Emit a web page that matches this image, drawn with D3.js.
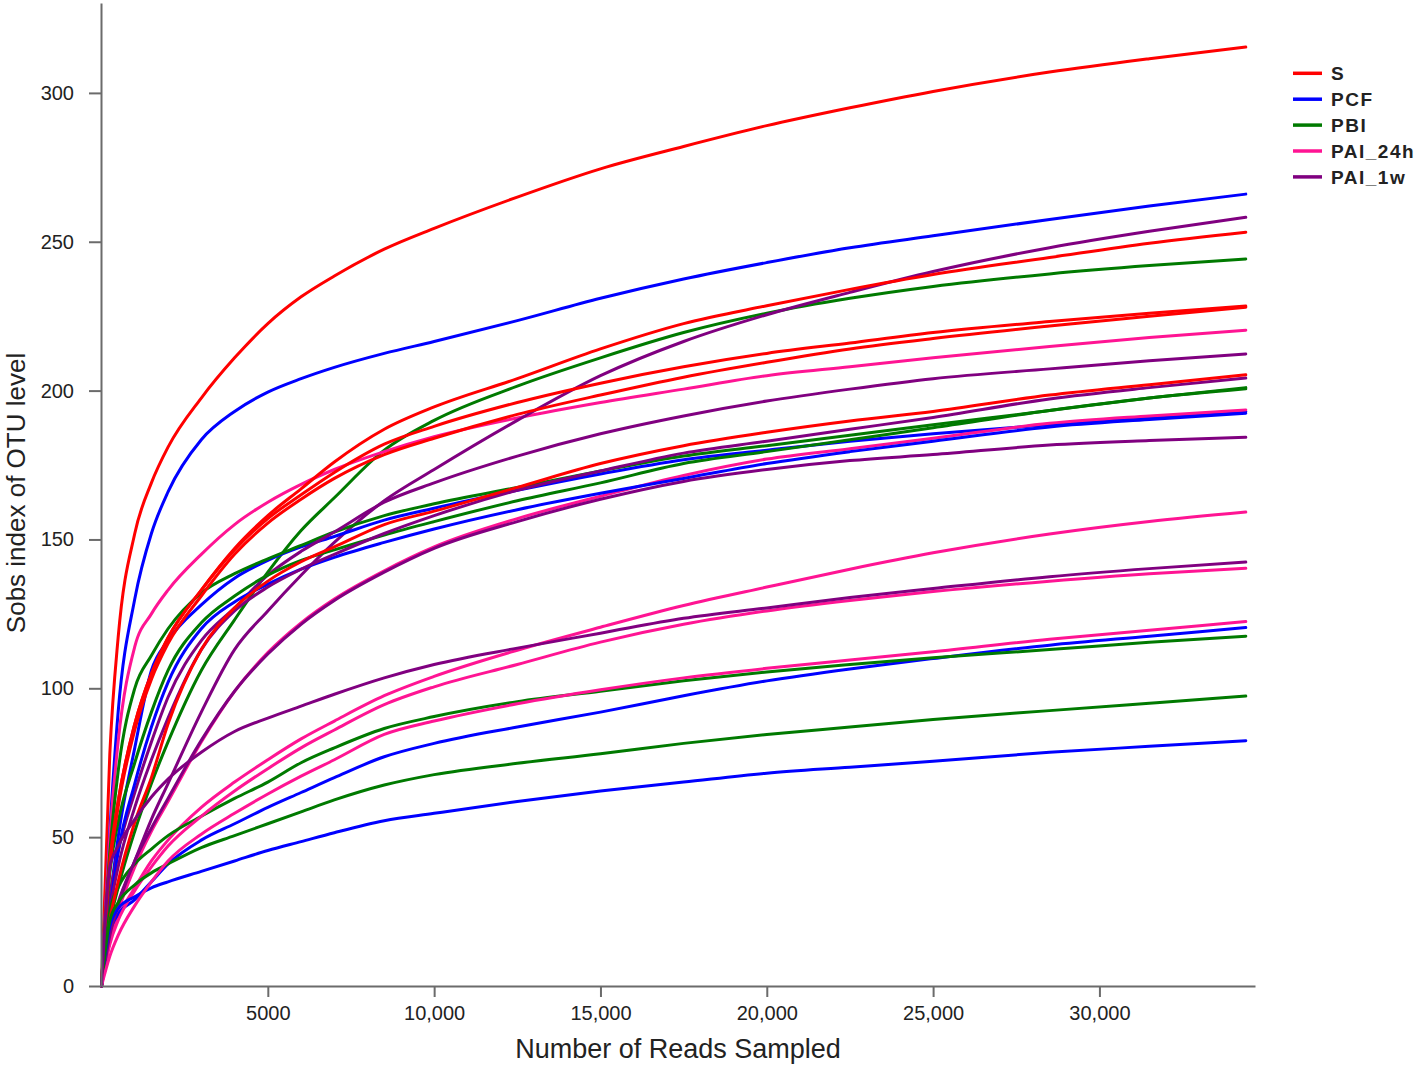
<!DOCTYPE html>
<html>
<head>
<meta charset="utf-8">
<script src="https://cdn.jsdelivr.net/npm/d3@7"></script>
<style>
  html, body { margin: 0; padding: 0; background: #fff; }
  svg { display: block; }
  text { font-family: "Liberation Sans", Arial, Helvetica, sans-serif; fill: #222; }
</style>
</head>
<body>
<svg id="chart" width="1418" height="1066"></svg>
<script>
// ---- data ----
const readsSampled = [0, 250, 500, 1000, 1500, 2000, 3000, 4000, 5000, 6000, 7000, 8500, 10000, 12500, 15000, 17500, 20000, 22500, 25000, 28500, 31500, 34400];

const groupNames = ["S", "PCF", "PBI", "PAI_24h", "PAI_1w"];
const groupColors = ["#ff0000", "#0000ff", "#007a00", "#ff1493", "#800080"];

const sCurves = [
  [0, 78, 117, 152, 169, 181, 197.5, 211, 222.5, 231.5, 238.5, 247.5, 254.5, 265, 274.5, 282, 289, 295, 300.5, 307, 311.5, 315.4],
  [0, 42, 62, 88, 105, 117, 133, 147, 158, 167, 176, 187, 194.5, 204, 214, 222.5, 228.5, 234, 239, 244.7, 249.5, 253.2],
  [0, 42, 62, 88, 105, 117, 133, 146.5, 157, 165, 172.5, 182, 188, 196, 202.5, 208, 212.5, 216, 219.5, 223.2, 226, 228.4],
  [0, 40, 60, 86, 103, 115, 131, 145, 155.5, 163.5, 170.5, 178.5, 184, 192, 198.5, 204.5, 209.5, 214, 217.5, 221.7, 225, 228],
  [0, 22, 35, 55, 70, 88, 113, 127, 136, 142.5, 147.5, 155, 159.5, 167.5, 175.5, 181.5, 186, 189.8, 193, 198.5, 202, 205.3]
];
const pcfCurves = [
  [0, 52, 92, 130, 152, 166, 183.5, 193, 199.5, 204, 207.8, 212.5, 216.5, 223.5, 231, 237.5, 243, 248, 252, 257.5, 262, 266],
  [0, 28, 50, 80, 106, 116, 128, 137, 143, 147.5, 151, 156.5, 160.5, 166.5, 172, 176.8, 180, 183, 185.5, 188.5, 191, 193],
  [0, 25, 45, 68, 87, 102, 120, 129, 135, 140, 144, 149, 153.5, 160, 165.5, 170.5, 175.5, 179.5, 183, 187.8, 190.3, 192.4],
  [0, 18, 24, 29, 35, 41, 49, 54.5, 60, 65, 70, 77, 81.5, 87, 92, 97.5, 102.5, 106.5, 110, 114.5, 117.5, 120.4],
  [0, 20, 26, 30, 33, 35, 38.5, 42, 45.5, 48.5, 51.5, 55.5, 58, 62, 65.5, 68.5, 71.5, 73.5, 75.5, 78.5, 80.5, 82.4]
];
const pbiCurves = [
  [0, 21, 33, 52, 68, 82, 106, 123, 139, 153, 164, 180, 190, 201.5, 211, 219.5, 226, 231, 235, 239.2, 242, 244.2],
  [0, 45, 72, 100, 111, 120, 132, 138.5, 143.5, 148, 152.5, 158, 162, 167.5, 173, 178, 181.5, 185, 188.5, 193.3, 197.5, 201],
  [0, 38, 55, 75, 92, 106, 122, 131, 138, 143, 146.5, 151.5, 156, 163, 169, 175.5, 179.5, 183.5, 187.5, 193.3, 197.5, 200.6],
  [0, 25, 33, 41, 46, 50.5, 57, 63, 68.5, 75, 80, 86.5, 90.5, 95.5, 99, 102.5, 105.5, 108, 110.3, 113, 115.5, 117.5],
  [0, 22, 28, 34, 38, 41, 46.5, 50.5, 54.5, 58.5, 62.5, 67.5, 71, 74.8, 78, 81.5, 84.5, 87, 89.5, 92.5, 95, 97.4]
];
const pai24Curves = [
  [0, 50, 82, 114, 125, 133, 145, 155, 162.5, 168.5, 173.5, 179.5, 184.5, 190.8, 196, 200.5, 205, 208, 211, 214.8, 217.8, 220.3],
  [0, 15, 25, 40, 52, 62, 82, 99, 112, 122, 130, 139.5, 147.5, 157, 164.5, 171.5, 177, 180.5, 184, 189, 191.5, 193.5],
  [0, 15, 23, 33, 42, 49, 60, 68.5, 76, 83, 89, 97.5, 104, 112.8, 120.5, 127.8, 134, 140, 145.5, 151.8, 156, 159.2],
  [0, 14, 22, 32, 40, 47, 57, 65.5, 73, 80, 86, 94.5, 100.5, 108, 115.5, 121.5, 126, 129.5, 132.5, 136, 138.5, 140.3],
  [0, 10, 17, 27, 35, 42, 51, 58, 64.5, 70.5, 76, 84.5, 89, 94.8, 99.5, 103.5, 106.7, 109.5, 112.3, 116.5, 119.5, 122.4]
];
const pai1wCurves = [
  [0, 18, 28, 42, 56, 68, 92, 113, 126, 138, 149, 163, 173.5, 190, 205, 216.5, 225.5, 233, 240, 248, 253.5, 258.2],
  [0, 30, 45, 65, 82, 97, 116, 127, 138, 146, 152.5, 162.5, 169, 178, 185.5, 191.5, 196.5, 200.5, 204, 207.3, 210, 212.3],
  [0, 25, 40, 60, 76, 90, 113, 126, 134, 140, 145, 152, 158, 166.5, 173, 179, 183, 187, 191, 197.2, 201, 204.2],
  [0, 17, 27, 42, 53, 63, 82.5, 99, 111.5, 121.5, 129.5, 139, 147, 156, 163.5, 169.5, 173.5, 176.5, 178.5, 181.7, 183.2, 184.3],
  [0, 40, 47, 56, 63.5, 69.5, 78.5, 85.5, 90, 94, 98, 103.5, 108, 113.5, 118.5, 123.5, 127, 130.5, 133.5, 137.5, 140.2, 142.4]
];

const xTicks = [5000, 10000, 15000, 20000, 25000, 30000];
const yTicks = [0, 50, 100, 150, 200, 250, 300];
const xTitle = "Number of Reads Sampled";
const yTitle = "Sobs index of OTU level";

// ---- drawing ----
const svg = d3.select("#chart");
const axisColor = "#6b6b6b";

const x = d3.scaleLinear().domain([0, 34677]).range([101.5, 1255]);
const y = d3.scaleLinear().domain([0, 330.2]).range([986, 3]);

const groups = [sCurves, pcfCurves, pbiCurves, pai24Curves, pai1wCurves];

const line = d3.line()
  .x((d, i) => x(readsSampled[i]))
  .y(d => y(d))
  .curve(d3.curveMonotoneX);

const plot = svg.append("g");
const order = [];
groups.forEach((g, gi) => g.forEach((c, ci) => order.push({gi, ci, c})));
order.sort((a, b) => a.ci - b.ci || a.gi - b.gi);
plot.selectAll("path")
  .data(order)
  .join("path")
  .attr("d", d => line(d.c))
  .attr("fill", "none")
  .attr("stroke", d => groupColors[d.gi])
  .attr("stroke-width", 3)
  .attr("stroke-linejoin", "round")
  .attr("stroke-linecap", "round");

// axes
const xAxis = d3.axisBottom(x)
  .tickValues(xTicks)
  .tickSize(11)
  .tickPadding(9)
  .tickSizeOuter(0)
  .tickFormat(d => d < 10000 ? String(d) : d3.format(",")(d));
const gx = svg.append("g").attr("transform", "translate(0,986)").call(xAxis);
gx.select(".domain").attr("stroke", axisColor).attr("stroke-width", 2);
gx.selectAll(".tick line").attr("stroke", axisColor).attr("stroke-width", 2);
gx.selectAll(".tick text").attr("font-size", 20).attr("fill", "#222")
  .style("font-family", "'Liberation Sans', Arial, sans-serif");

const yAxis = d3.axisLeft(y)
  .tickValues(yTicks)
  .tickSize(12)
  .tickPadding(15)
  .tickSizeOuter(0);
const gy = svg.append("g").attr("transform", "translate(101,0)").call(yAxis);
gy.select(".domain").attr("stroke", axisColor).attr("stroke-width", 2);
gy.selectAll(".tick line").attr("stroke", axisColor).attr("stroke-width", 2);
gy.selectAll(".tick text").attr("font-size", 20).attr("fill", "#222")
  .style("font-family", "'Liberation Sans', Arial, sans-serif");

// titles
svg.append("text")
  .attr("x", 678).attr("y", 1058)
  .attr("text-anchor", "middle")
  .attr("font-size", 27)
  .attr("fill", "#222")
  .text(xTitle);

svg.append("text")
  .attr("transform", "translate(25,493) rotate(-90)")
  .attr("text-anchor", "middle")
  .attr("font-size", 26)
  .attr("fill", "#222")
  .text(yTitle);

// legend
const legend = svg.append("g");
groupNames.forEach((name, i) => {
  const ly = 73.3 + i * 25.9;
  legend.append("line")
    .attr("x1", 1293).attr("x2", 1322)
    .attr("y1", ly).attr("y2", ly)
    .attr("stroke", groupColors[i])
    .attr("stroke-width", 3.5);
  legend.append("text")
    .attr("x", 1331).attr("y", ly + 6.8)
    .attr("font-size", 19)
    .attr("font-weight", "bold")
    .attr("letter-spacing", "1.5px")
    .attr("fill", "#222")
    .text(name);
});
</script>
</body>
</html>
